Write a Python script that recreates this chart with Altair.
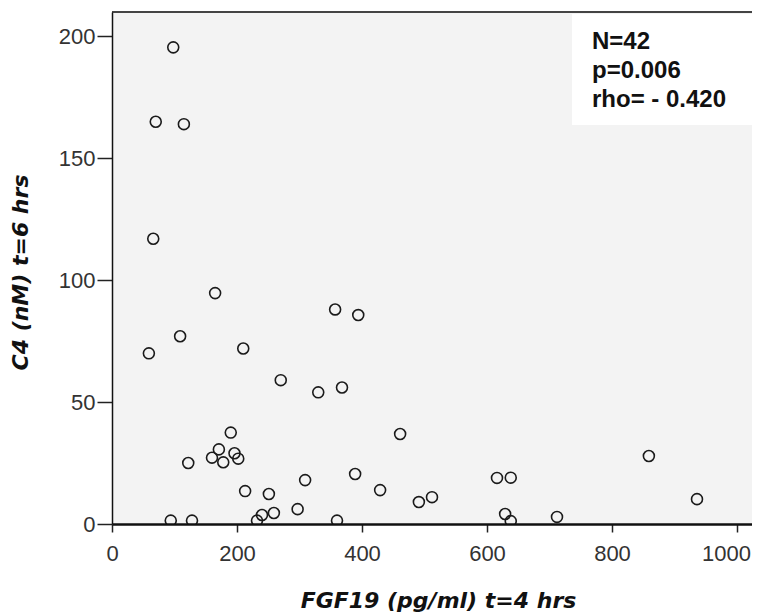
import altair as alt
import pandas as pd

# FGF19 (pg/ml) at t=4 hrs and C4 (nM) at t=6 hrs, one entry per subject (N=42)
fgf19 = [98, 70, 115, 66, 165, 59, 109, 210, 270, 330, 368, 357, 394, 190,
         171, 160, 178, 196, 202, 122, 213, 251, 309, 389, 429, 461, 491, 512,
         616, 638, 629, 638, 712, 859, 936, 94, 128, 232, 240, 259, 297, 360]
c4 = [195.5, 165, 164, 117, 94.7, 70, 77, 72, 59, 54, 56, 88, 85.7, 37.5,
      30.6, 27.2, 25.3, 29, 26.8, 25, 13.5, 12.3, 18, 20.5, 13.9, 36.9, 9, 11,
      18.9, 19, 4.1, 1.2, 2.9, 27.9, 10.2, 1.4, 1.4, 1.4, 3.7, 4.5, 6.1, 1.4]

x_ticks = [0, 200, 400, 600, 800, 1000]
y_ticks = [0, 50, 100, 150, 200]
stats_lines = ["N=42", "p=0.006", "rho= - 0.420"]

df = pd.DataFrame({"fgf19": fgf19, "c4": c4})
one = pd.DataFrame({"k": [0]})

W, H = 640, 512
X_MAX = 1024

x_axis = alt.Axis(
    values=x_ticks, format="d", grid=False, zindex=1,
    tickSize=8, tickWidth=1.5, tickColor="#222",
    domainColor="#111", domainWidth=2.5,
    labelFont="Liberation Sans", labelFontSize=22, labelColor="#333",
    labelPadding=11, labelFlush=False, labelOverlap=False,
    labelOffset={"condition": {"test": "datum.value == 1000", "value": -11}, "value": 0},
    title="FGF19 (pg/ml) t=4 hrs", titleFont="DejaVu Sans", titleFontSize=22,
    titleFontWeight="bold", titleFontStyle="italic", titleColor="#111",
    titleX=326, titleY=83, titleBaseline="alphabetic", titleAlign="center",
)
y_axis = alt.Axis(
    values=y_ticks, format="d", grid=False, zindex=1,
    tickSize=15, tickWidth=1.5, tickColor="#222",
    domainColor="#111", domainWidth=1.5,
    labelFont="Liberation Sans", labelFontSize=22, labelColor="#333",
    labelPadding=2, labelFlush=False, labelOverlap=False,
    title="C4 (nM) t=6 hrs", titleFont="DejaVu Sans", titleFontSize=22,
    titleFontWeight="bold", titleFontStyle="italic", titleColor="#111",
    titleX=-85, titleY=260, titleAngle=270, titleBaseline="alphabetic",
    titleAlign="center",
)

points = alt.Chart(df).mark_point(
    shape="circle", filled=False, size=120, color="#1a1a1a",
    strokeWidth=1.6, opacity=1, clip=True,
).encode(
    x=alt.X("fgf19:Q", scale=alt.Scale(domain=[0, X_MAX], nice=False, zero=True), axis=x_axis),
    y=alt.Y("c4:Q", scale=alt.Scale(domain=[0, 210], nice=False, zero=True), axis=y_axis),
)

top_line = alt.Chart(one).mark_rule(color="#444", strokeWidth=2).encode(
    x=alt.value(0), x2=alt.value(W), y=alt.value(0)
)

box = alt.Chart(one).mark_rect(color="white").encode(
    x=alt.value(460), x2=alt.value(W), y=alt.value(2), y2=alt.value(113)
)

stats = alt.Chart(one).mark_text(
    text=stats_lines, align="left", baseline="alphabetic",
    font="Liberation Sans", fontWeight="bold", fontSize=24, lineHeight=29,
    color="#111",
).encode(x=alt.value(480), y=alt.value(37))

chart = alt.layer(top_line, box, stats, points).properties(
    width=W, height=H,
    autosize=alt.AutoSizeParams(type="none"),
    padding={"left": 104, "top": 4, "right": 0, "bottom": 88},
    background="white",
).configure_view(strokeWidth=0, fill="#f3f3f3")

chart.save("out.html", embed_options={"renderer": "svg", "actions": False})
